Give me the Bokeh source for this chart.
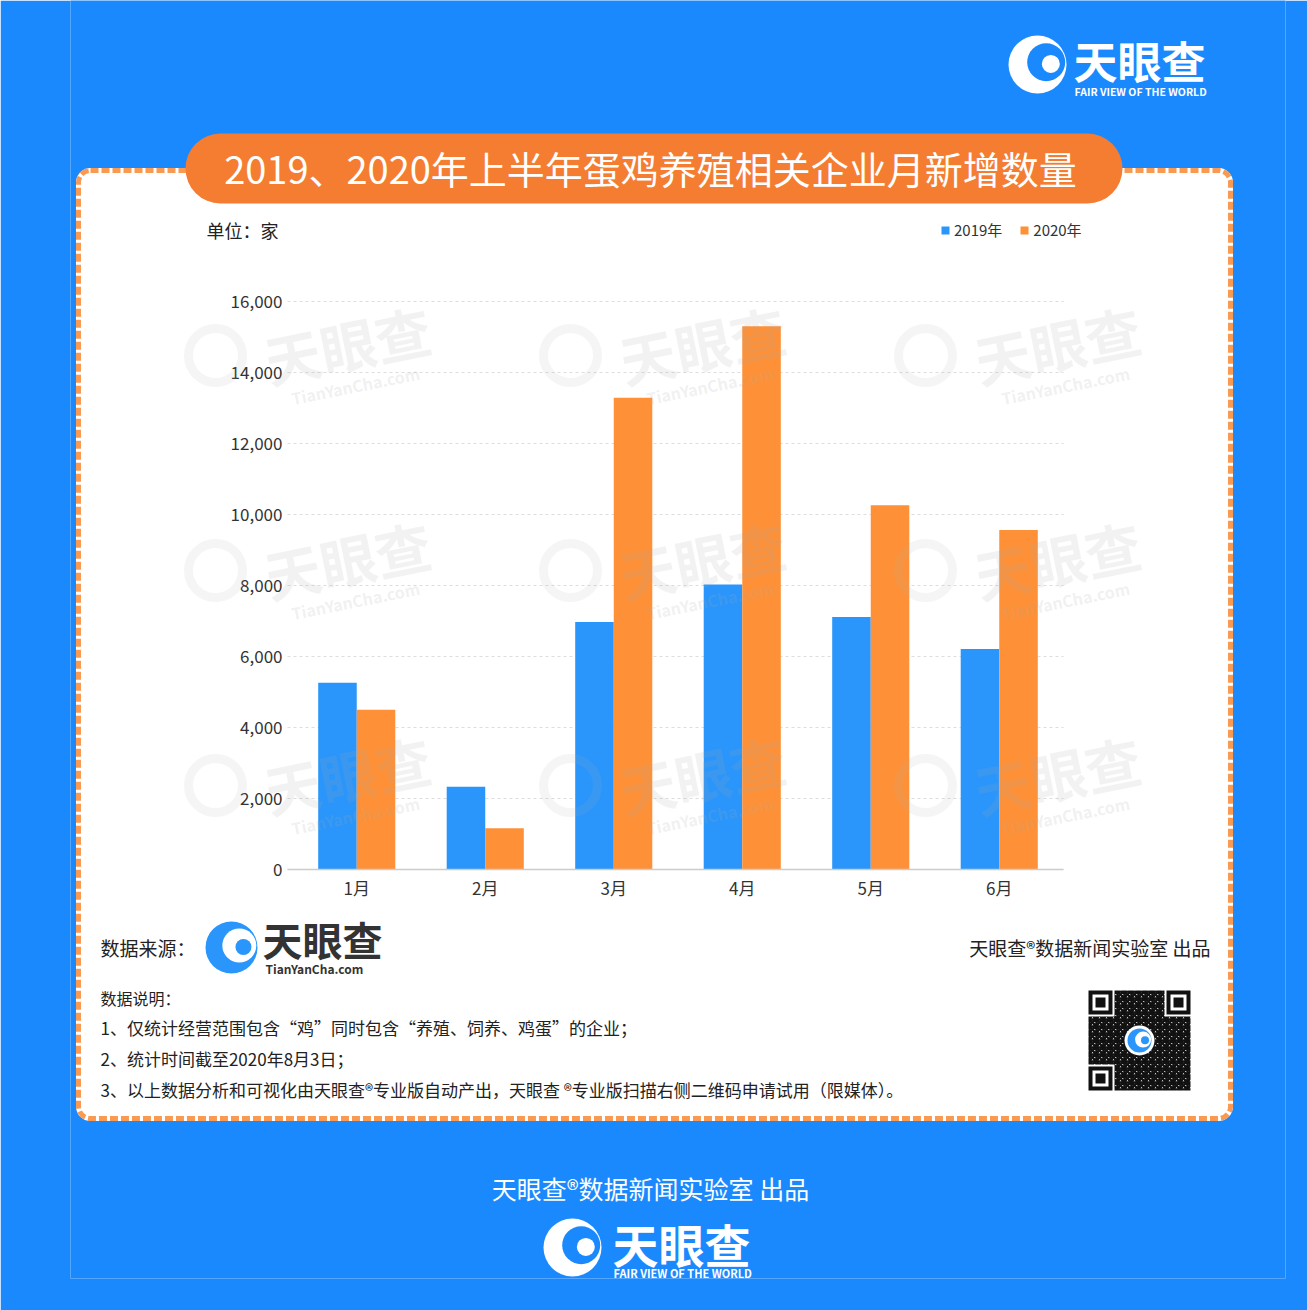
from bokeh.plotting import figure
from bokeh.models import (FactorRange, Range1d, Label, BoxAnnotation, Legend, LegendItem,
                          NumeralTickFormatter, FixedTicker, ColumnDataSource, LinearScale)
from bokeh.transform import dodge
from bokeh.embed import file_html
from bokeh.resources import INLINE

# ---------------- data ----------------
months = ["1月", "2月", "3月", "4月", "5月", "6月"]
series_names = ["2019年", "2020年"]
values_2019 = [5260, 2330, 6970, 8030, 7110, 6210]
values_2020 = [4500, 1160, 13290, 15300, 10260, 9560]
y_ticks = [0, 2000, 4000, 6000, 8000, 10000, 12000, 14000, 16000]

title_text = "2019、2020年上半年蛋鸡养殖相关企业月新增数量"
unit_text = "单位：家"
source_label = "数据来源："
credit_text = "天眼查®数据新闻实验室 出品"
notes_title = "数据说明："
notes = [
    "1、仅统计经营范围包含“鸡”同时包含“养殖、饲养、鸡蛋”的企业；",
    "2、统计时间截至2020年8月3日；",
    "3、以上数据分析和可视化由天眼查®专业版自动产出，天眼查 ®专业版扫描右侧二维码申请试用（限媒体）。",
]
brand = "天眼查"
brand_en = "FAIR VIEW OF THE WORLD"
brand_url = "TianYanCha.com"

# ---------------- style ----------------
BG = "#1b89fe"
BLUE = "#2a96fb"
ORANGE = "#fe9137"
PILL = "#f47d31"
DASH = "#f99a52"
FONT = "Noto Sans CJK SC"
TXT = "#333333"

W, H = 1307, 1310
# frame (drawing area) in canvas pixels
FRAME_L, FRAME_R, FRAME_T, FRAME_B = 70, 1285, 0, 1278
# where the category band and the value axis sit, in canvas pixels
CAT_L, CAT_R = 292, 1063
Y0_PX, YMAX_PX, YMAX = 869, 301, 16000

ppu = (CAT_R - CAT_L) / len(months)          # pixels per category
pad = (CAT_L - FRAME_L) / ppu                # symmetric padding of the factor range
k = YMAX / (Y0_PX - YMAX_PX)                 # value units per pixel

x_range = FactorRange(*months, range_padding=pad, range_padding_units="absolute")
y_range = Range1d((Y0_PX - FRAME_B) * k, (Y0_PX - FRAME_T) * k)

p = figure(width=W, height=H, x_range=x_range, y_range=y_range, title=None,
           output_backend="svg", toolbar_location=None,
           min_border=0, min_border_left=FRAME_L, min_border_right=W - FRAME_R,
           min_border_top=FRAME_T, min_border_bottom=H - FRAME_B)
p.extra_y_ranges = {"px": Range1d(FRAME_B, FRAME_T)}
p.extra_y_scales = {"px": LinearScale()}
p.border_fill_color = BG
p.background_fill_color = BG
p.outline_line_color = None


def sx(px):
    # canvas pixel -> synthetic categorical coordinate
    return (px - CAT_L) / ppu


def box(l, r, t, b, **kw):
    kw.setdefault("fill_alpha", 1.0)
    kw.setdefault("line_alpha", 1.0)
    a = BoxAnnotation(left=sx(l), right=sx(r), top=t, bottom=b,
                      y_range_name="px", **kw)
    p.add_layout(a)
    return a


def label(x, y, text, size, color=TXT, align="left", style="normal", angle=0.0, alpha=1.0, font=FONT, level="annotation"):
    lb = Label(x=sx(x), y=y, text=text, y_range_name="px",
               text_font=font, text_font_size=f"{size}px", text_color=color,
               text_align=align, text_baseline="middle", text_font_style=style,
               angle=angle, text_alpha=alpha, level=level)
    p.add_layout(lb)
    return lb


def circle(cx, cy, r, color, alpha=1.0, level="annotation", **kw):
    r = int(round(r))
    return box(cx - r, cx + r, cy - r, cy + r, border_radius=r, fill_color=color,
               fill_alpha=alpha, level=level, **({"line_color": None} | kw))


def icon(cx, cy, r, fg, bg, level="annotation"):
    circle(cx, cy, r, fg, level=level)
    circle(cx + 0.30 * r, cy - 0.08 * r, 0.64 * r, bg, level=level)
    circle(cx + 0.46 * r, cy - 0.02 * r, 0.30 * r, fg, level=level)


# ---------------- panel ----------------
box(78, 1230, 170, 1118, fill_color="white", line_color="white", line_width=5,
    border_radius=12, level="image")
box(78, 1230, 170, 1118, fill_alpha=0, line_color=DASH, line_width=5,
    line_dash="8 3", border_radius=12, level="image")
box(185, 1122, 133, 203, fill_color=PILL, line_color=None, border_radius=35, level="image")
label(650, 167, title_text, 38, color="white", align="center")

label(206, 229, unit_text, 18, color="#222222")

# ---------------- bars ----------------
src = ColumnDataSource(dict(month=months, v2019=values_2019, v2020=values_2020))
r1 = p.vbar(x=dodge("month", -0.15, range=p.x_range), top="v2019", width=0.3,
            source=src, fill_color=BLUE, line_color=None)
r2 = p.vbar(x=dodge("month", 0.15, range=p.x_range), top="v2020", width=0.3,
            source=src, fill_color=ORANGE, line_color=None)

legend = Legend(items=[LegendItem(label=series_names[0], renderers=[r1]),
                       LegendItem(label=series_names[1], renderers=[r2])],
                orientation="horizontal", location=(940 - FRAME_L, FRAME_B - 240),
                background_fill_alpha=0, border_line_color=None, padding=0, margin=0,
                spacing=17, label_standoff=4, glyph_width=10, glyph_height=10,
                label_height=20, label_text_font=FONT, label_text_font_size="15px",
                label_text_color=TXT)
p.add_layout(legend)

# ---------------- axes ----------------
p.yaxis.fixed_location = sx(CAT_L)
p.yaxis.ticker = FixedTicker(ticks=y_ticks)
p.ygrid.ticker = FixedTicker(ticks=y_ticks)
p.yaxis.formatter = NumeralTickFormatter(format="0,0")
p.yaxis.axis_line_color = None
p.yaxis.major_tick_line_color = None
p.yaxis.minor_tick_line_color = None
p.yaxis.major_tick_out = 0
p.yaxis.major_tick_in = 0
p.yaxis.major_label_standoff = 10
p.yaxis.major_label_text_font = FONT
p.yaxis.major_label_text_font_size = "17px"
p.yaxis.major_label_text_color = TXT

p.xaxis.fixed_location = 0
p.xaxis.bounds = (sx(287), sx(CAT_R))
p.xaxis.axis_line_color = "#cccccc"
p.xaxis.axis_line_width = 1.5
p.xaxis.major_tick_line_color = None
p.xaxis.minor_tick_line_color = None
p.xaxis.major_tick_out = 0
p.xaxis.major_tick_in = 0
p.xaxis.major_label_standoff = 5
p.xaxis.major_label_text_font = FONT
p.xaxis.major_label_text_font_size = "17px"
p.xaxis.major_label_text_color = TXT
p.xgrid.grid_line_color = None
p.ygrid.grid_line_color = "#dddddd"
p.ygrid.grid_line_dash = "3 3"
p.ygrid.level = "underlay"
try:
    p.ygrid.cross_bounds = (sx(287), sx(CAT_R))
except Exception:
    pass

# ---------------- watermarks ----------------
for wx in (215, 570, 925):
    for wy in (355, 570, 785):
        circle(wx, wy, 27, "#b0b0b0", alpha=0.0, line_color="#b0b0b0",
               line_alpha=0.12, line_width=9)
        label(wx + 132, wy - 12, brand, 56, color="#a8a8a8", align="center",
              style="bold", angle=0.2, alpha=0.15)
        label(wx + 140, wy + 30, brand_url, 16, color="#a8a8a8", align="center",
              style="bold", angle=0.2, alpha=0.18)

# ---------------- footer inside panel ----------------
label(100, 947, source_label, 19, color="#222222")
icon(231, 947, 26, BLUE, "white")
label(262, 938, brand, 40, color="#333333", style="bold")
label(265, 968, brand_url, 12, color="#333333", style="bold")
label(1210, 947, credit_text, 19, color="#222222", align="right")
label(100, 997, notes_title, 16, color="#222222")
for i, t in enumerate(notes):
    label(100, 1027 + 31 * i, t, 17, color="#222222")

# QR code imitation
box(1088, 1190, 990, 1090, fill_color="white", line_color=None,
    hatch_pattern="criss_cross", hatch_scale=7, hatch_weight=2.5, hatch_color="#111111")
for (qx, qy) in ((1088, 990), (1166, 990), (1088, 1066)):
    box(qx - 2, qx + 26, qy - 2, qy + 26, fill_color="white", line_color=None)
    box(qx, qx + 24, qy, qy + 24, fill_color="#111111", line_color=None)
    box(qx + 4, qx + 20, qy + 4, qy + 20, fill_color="white", line_color=None)
    box(qx + 7, qx + 17, qy + 7, qy + 17, fill_color="#111111", line_color=None)
circle(1139, 1040, 15, "white")
icon(1139, 1040, 12, BLUE, "white")

# ---------------- brand on blue ----------------
icon(1037, 64, 29, "white", BG)
label(1073, 59, brand, 44, color="white", style="bold")
label(1074, 91, brand_en, 10.5, color="white", style="bold")

label(650, 1187, credit_text, 25, color="white", align="center")
icon(572, 1247, 29, "white", BG)
label(612, 1242, brand, 46, color="white", style="bold")
label(613, 1272, brand_en, 11, color="white", style="bold")

html = file_html(p, INLINE)
html = html.replace("<body>", f'<body style="margin:0;background:{BG};">', 1)
open("out.html", "w").write(html)
